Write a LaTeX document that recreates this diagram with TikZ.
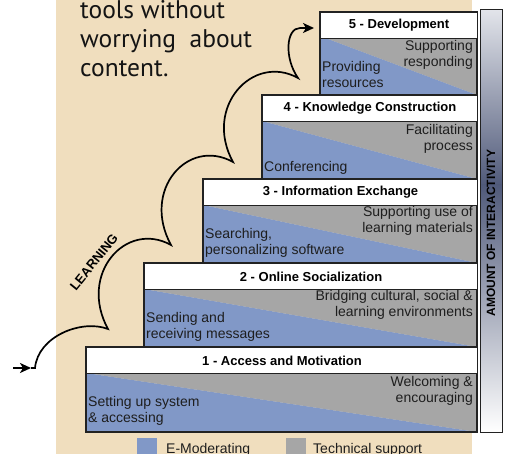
\documentclass[tikz,border=0pt]{standalone}
\usepackage{fontspec}
\setmainfont{Liberation Sans}
\newfontfamily\myriad{PT Sans}
\usetikzlibrary{arrows.meta}
\definecolor{beige}{RGB}{240,222,190}
\definecolor{emod}{RGB}{129,152,199}
\definecolor{tech}{RGB}{166,166,166}
\definecolor{bardark}{RGB}{80,90,122}
\definecolor{bartop}{RGB}{226,228,234}
\definecolor{edge}{RGB}{34,34,34}
\definecolor{txt}{RGB}{30,30,30}
\tikzset{
  headbox/.style={draw=edge, line width=1.1pt, fill=white, anchor=north west, inner sep=0pt,
    minimum height=26pt, font=\fontsize{13}{15}\selectfont\bfseries, text=black},
  boxedge/.style={draw=edge, line width=1.1pt},
  rtxt/.style={anchor=north east, inner sep=0pt, align=right, text=txt,
    font=\fontsize{14}{16.5}\selectfont},
  ltxt/.style={anchor=north west, inner sep=0pt, align=left, text=txt,
    font=\fontsize{14}{16.5}\selectfont},
  learncurve/.style={line width=1.7pt, black},
  tip/.style={-{Stealth[length=11pt,width=10pt,inset=3pt]}, line width=1.7pt},
  legtxt/.style={anchor=base west, inner sep=0pt, text=txt, font=\fontsize{14}{16.5}\selectfont},
}
\begin{document}
\begin{tikzpicture}[x=1pt,y=-1pt]
\useasboundingbox (0,0) rectangle (506,454);
\clip (0,0) rectangle (506,454);
% background
\fill[beige] (56,-5) rectangle (472,460);

% top-left text
\node[anchor=north west, inner sep=0pt, align=left, font=\myriad\fontsize{25.5}{29}\selectfont, text=black!92] (intro) at (80,0)
  {tools without\\worrying\ \ about\\content.};

% interactivity bar
\shade[top color=bartop, bottom color=bardark] (480,10) rectangle (502,185);
\shade[top color=bardark, bottom color=white] (480,185) rectangle (502,432);
\draw[boxedge, line width=1pt] (480,10) rectangle (502,432);
\node[rotate=90, font=\fontsize{12}{14}\selectfont\bfseries, text=black] (amount) at (491,233) {AMOUNT OF INTERACTIVITY};

% step 5
\fill[tech] (320,36) -- (477,36) -- (477,95) -- cycle;
\fill[emod] (320,36) -- (477,95) -- (320,95) -- cycle;
\draw[boxedge] (320,12) rectangle (477,95);
\node[headbox, minimum width=157pt] (h5) at (320,12) {5 - Development};
\node[rtxt] (r5) at (473,40) {Supporting\\responding};
\node[ltxt] (l5) at (322,61) {Providing\\resources};

% step 4
\fill[tech] (262,121) -- (477,121) -- (477,179) -- cycle;
\fill[emod] (262,121) -- (477,179) -- (262,179) -- cycle;
\draw[boxedge] (262,95) rectangle (477,179);
\node[headbox, minimum width=215pt] (h4) at (262,95) {4 - Knowledge Construction};
\node[rtxt] (r4) at (473,124) {Facilitating\\process};
\node[ltxt] (l4) at (264,161) {Conferencing};

% step 3
\fill[tech] (203,205) -- (477,205) -- (477,263) -- cycle;
\fill[emod] (203,205) -- (477,263) -- (203,263) -- cycle;
\draw[boxedge] (203,179) rectangle (477,263);
\node[headbox, minimum width=274pt] (h3) at (203,179) {3 - Information Exchange};
\node[rtxt] (r3) at (473,206) {Supporting use of\\learning materials};
\node[ltxt] (l3) at (205,228) {Searching,\\personalizing software};

% step 2
\fill[tech] (144,289) -- (477,289) -- (477,347) -- cycle;
\fill[emod] (144,289) -- (477,347) -- (144,347) -- cycle;
\draw[boxedge] (144,263) rectangle (477,347);
\node[headbox, minimum width=333pt] (h2) at (144,263) {2 - Online Socialization};
\node[rtxt] (r2) at (473,290) {Bridging cultural, social \&\\learning environments};
\node[ltxt] (l2) at (146,312) {Sending and\\receiving messages};

% step 1
\fill[tech] (86,373) -- (477,373) -- (477,432) -- cycle;
\fill[emod] (86,373) -- (477,432) -- (86,432) -- cycle;
\draw[boxedge] (86,347) rectangle (477,432);
\node[headbox, minimum width=391pt] (h1) at (86,347) {1 - Access and Motivation};
\node[rtxt] (r1) at (473,376) {Welcoming \&\\encouraging};
\node[ltxt] (l1) at (88,396) {Setting up system\\\& accessing};

% legend
\fill[emod] (137,438) rectangle (157,460);
\node[legtxt] (leg1) at (166,453) {E-Moderating};
\fill[tech] (286,438) rectangle (306,460);
\node[legtxt] (leg2) at (313,453) {Technical support};

% learning curve
\coordinate (s0) at (13,368);
\coordinate (sa) at (31,368);
\coordinate (s1) at (35,368);
\coordinate (c1) at (108,329);
\coordinate (c2) at (171,245);
\coordinate (c3) at (233,162);
\coordinate (c4) at (298,78);
\coordinate (e0) at (300,28);
\coordinate (e1) at (314,28);
\draw[tip] (s0) -- (sa);
\draw[learncurve] (sa) -- (s1)
  .. controls +(3,-32) and +(-26,-10) .. (c1)
  .. controls +(-30,-55) and +(-45,-25) .. (c2)
  .. controls +(-30,-55) and +(-45,-25) .. (c3)
  .. controls +(-30,-55) and +(-45,-25) .. (c4)
  .. controls +(-14,-20) and +(-14,0) .. (e0);
\draw[tip] (e0) -- (e1);
\node[rotate=51, font=\fontsize{13}{15}\selectfont\bfseries, text=black] (learn) at (94,262) {LEARNING};
\end{tikzpicture}
\end{document}
